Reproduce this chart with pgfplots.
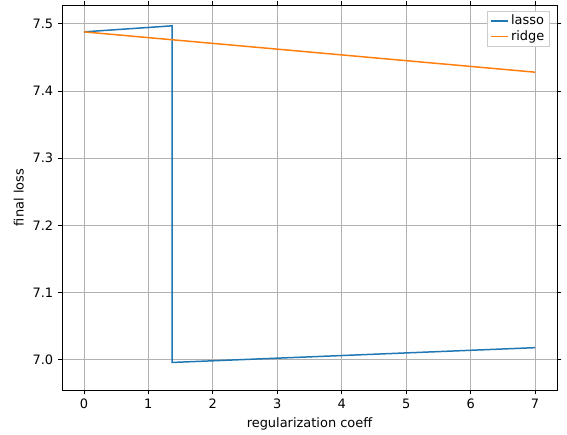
\documentclass[border=0pt]{standalone}
\usepackage{pgfplots}
\pgfplotsset{compat=1.18}
\usepackage{fontspec}
\setmainfont{DejaVu Sans}
\definecolor{c1}{HTML}{1F77B4}
\definecolor{c2}{HTML}{FF7F0E}
\begin{document}
\fontsize{13}{15}\selectfont
\begin{tikzpicture}
\path (-62bp,-42bp) rectangle (505bp,390bp);
\begin{axis}[at={(0,0)},anchor=south west,scale only axis,
width=495bp,height=385bp,
xmin=-0.34,xmax=7.34,ymin=6.955,ymax=7.528,
xtick={0,...,7},ytick={7.0,7.1,7.2,7.3,7.4,7.5},
yticklabel style={/pgf/number format/.cd,fixed,fixed zerofill,precision=1},
/pgf/number format/assume math mode=true,
grid=major,grid style={color=black!30,line width=0.8pt},
tick align=outside,tick style={black,line width=0.8pt},major tick length=4.3bp,
xlabel={regularization coeff},ylabel={final loss},
ticklabel style={font=\fontsize{13}{15}\selectfont},
label style={font=\fontsize{13}{15}\selectfont},
legend style={at={(0.985,0.985)},anchor=north east,draw=black!20,font=\fontsize{13}{15}\selectfont},
legend cell align=left,
]
\addplot[c1,line width=1.5pt,forget plot] coordinates {(0,7.488) (1.37,7.497) (1.37,6.996) (7,7.018)};
\addplot[c2,line width=1.5pt,forget plot] coordinates {(0,7.488) (7,7.428)};
\addlegendimage{c1,line width=1.5pt}
\addlegendentry{lasso}
\addlegendimage{c2,line width=1.5pt}
\addlegendentry{ridge}
\end{axis}
\end{tikzpicture}
\end{document}
